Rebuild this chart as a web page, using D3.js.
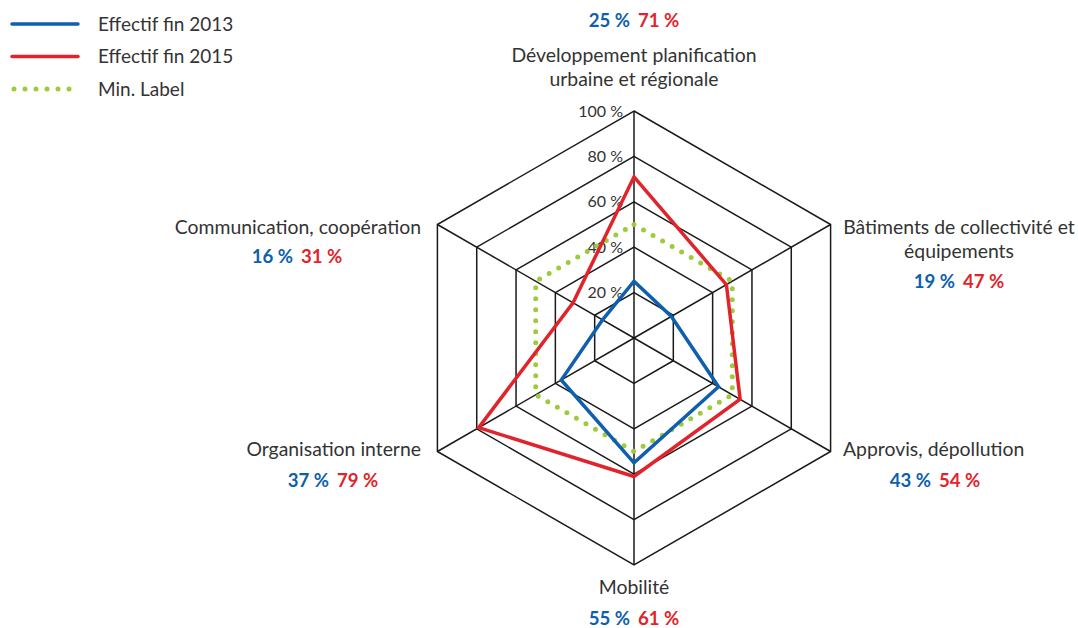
<!DOCTYPE html>
<html>
<head>
<meta charset="utf-8">
<script src="https://cdn.jsdelivr.net/npm/d3@7"></script>
<style>
  body { margin: 0; background: #fff; }
  text { font-family: Lato, "Open Sans", sans-serif; fill: #333; }
</style>
</head>
<body>
<svg></svg>
<script>
const width = 1078;
const height = 628;
const cx = 634;
const cy = 338;
const radius = 227;

const axes = [
  ['Développement planification', 'urbaine et régionale'],
  ['Bâtiments de collectivité et', 'équipements'],
  ['Approvis, dépollution'],
  ['Mobilité'],
  ['Organisation interne'],
  ['Communication, coopération']
];
const values2013 = [25, 19, 43, 55, 37, 16];
const values2015 = [71, 47, 54, 61, 79, 31];
const minLabel = [50, 50, 50, 50, 50, 50];
const ticks = [20, 40, 60, 80, 100];
const seriesNames = ['Effectif fin 2013', 'Effectif fin 2015', 'Min. Label'];

const blue = '#0e5fae';
const red = '#e1242b';
const green = '#9dcb3b';

const svg = d3.select('svg')
  .attr('width', width)
  .attr('height', height);

const rScale = d3.scaleLinear()
  .domain([0, 100])
  .range([0, radius]);

const angle = i => i * Math.PI / 3;

const point = (i, v) => [rScale(v) * Math.sin(angle(i)), -rScale(v) * Math.cos(angle(i))];

const radial = d3.lineRadial()
  .angle((d, i) => angle(i))
  .radius(d => rScale(d))
  .curve(d3.curveLinearClosed);

const plot = svg.append('g')
  .attr('transform', `translate(${cx}, ${cy})`);

// grid rings
plot.selectAll('.ring')
  .data(ticks)
  .join('path')
  .classed('ring', true)
  .attr('d', t => radial(axes.map(() => t)))
  .attr('fill', 'none')
  .attr('stroke', '#1a1a1a')
  .attr('stroke-width', 1.5);

// spokes
plot.selectAll('.spoke')
  .data(axes)
  .join('line')
  .classed('spoke', true)
  .attr('x1', 0)
  .attr('y1', 0)
  .attr('x2', (d, i) => point(i, 100)[0])
  .attr('y2', (d, i) => point(i, 100)[1])
  .attr('stroke', '#1a1a1a')
  .attr('stroke-width', 1.5);

// tick labels
plot.selectAll('.tick-label')
  .data(ticks)
  .join('text')
  .classed('tick-label', true)
  .attr('x', -11)
  .attr('y', t => -rScale(t))
  .attr('dy', '0.35em')
  .attr('text-anchor', 'end')
  .attr('font-size', 16)
  .text(t => `${t} %`);

// series
const series = [
  { values: minLabel, color: green, dash: '0 11', width: 5 },
  { values: values2013, color: blue, dash: null, width: 3.5 },
  { values: values2015, color: red, dash: null, width: 3.5 }
];

plot.selectAll('.series')
  .data(series)
  .join('path')
  .classed('series', true)
  .attr('d', s => radial(s.values))
  .attr('fill', 'none')
  .attr('stroke', s => s.color)
  .attr('stroke-width', s => s.width)
  .attr('stroke-dasharray', s => s.dash)
  .attr('stroke-linecap', s => s.dash ? 'round' : 'butt')
  .attr('stroke-linejoin', 'miter');

// axis labels
const labelFont = 19.4;
const valueFont = 18.6;

const labelSpec = [
  { anchor: 'middle', x: 0, nameY: -276, valueY: -311, valueX: 0 },
  { anchor: 'start', x: 209, nameY: -104, valueY: -50, valueX: 325 },
  { anchor: 'start', x: 209, nameY: 118, valueY: 149, valueX: 301 },
  { anchor: 'middle', x: 0, nameY: 256, valueY: 287, valueX: 0 },
  { anchor: 'end', x: -213, nameY: 118, valueY: 149, valueX: -301 },
  { anchor: 'end', x: -213, nameY: -104, valueY: -75, valueX: -337 }
];

axes.forEach((name, i) => {
  const s = labelSpec[i];
  const t = plot.append('text')
    .attr('x', s.x)
    .attr('y', s.nameY)
    .attr('text-anchor', i === 1 ? 'middle' : s.anchor)
    .attr('font-size', labelFont);
  name.forEach((line, j) => {
    t.append('tspan')
      .attr('x', i === 1 ? s.valueX : s.x)
      .attr('dy', j === 0 ? 0 : 24)
      .text(line);
  });

  const v = plot.append('text')
    .attr('x', s.valueX)
    .attr('y', s.valueY)
    .attr('text-anchor', 'middle')
    .attr('font-size', valueFont)
    .attr('font-weight', 'bold');
  v.append('tspan')
    .style('fill', blue)
    .text(`${values2013[i]} %`);
  v.append('tspan')
    .attr('dx', 8)
    .style('fill', red)
    .text(`${values2015[i]} %`);
});

// legend
const legend = svg.append('g')
  .attr('transform', 'translate(12, 24)');

const legendItems = legend.selectAll('g')
  .data(series.slice(1).concat(series[0]).map((s, i) => ({ ...s, name: seriesNames[i] })))
  .join('g')
  .attr('transform', (d, i) => `translate(0, ${i * 32.5})`);

legendItems.append('line')
  .attr('x1', d => d.dash ? 2 : 0)
  .attr('x2', 66)
  .attr('stroke', d => d.color)
  .attr('stroke-width', d => d.width)
  .attr('stroke-dasharray', d => d.dash)
  .attr('stroke-linecap', 'round');

legendItems.append('text')
  .attr('x', 86)
  .attr('dy', '0.35em')
  .attr('font-size', 19)
  .text(d => d.name);
</script>
</body>
</html>
